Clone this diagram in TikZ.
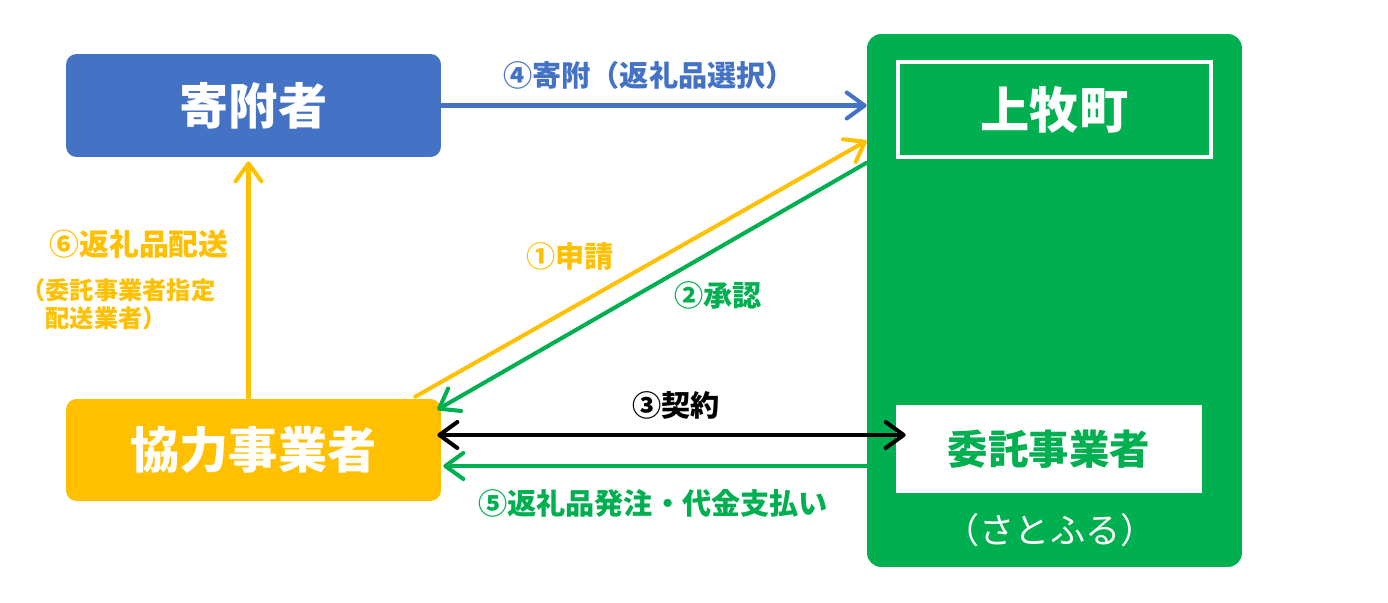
\documentclass[tikz,border=0pt]{standalone}
\usepackage{fontspec}
\setmainfont{Noto Sans CJK JP}
\usepackage{xcolor}
\usetikzlibrary{arrows.meta,positioning,calc}

\definecolor{donorblue}{HTML}{4472C4}
\definecolor{partneryellow}{HTML}{FFC000}
\definecolor{towngreen}{HTML}{00B050}

\begin{document}
\begin{tikzpicture}[
  x=0.02cm,
  y=-0.02cm,
  font=\bfseries,
  >={Straight Barb[length=3.6mm, width=5.2mm, round]},
  link/.style={->, line width=2.3pt, line cap=round},
  duplex/.style={<->, line width=2.3pt, line cap=round},
  actor/.style={rounded corners=6pt, minimum width=7.5cm, minimum height=2.06cm,
    text=white, font=\fontsize{28}{30}\selectfont\bfseries, inner sep=0pt},
  panel/.style={fill=towngreen, rounded corners=8pt, minimum width=7.5cm,
    minimum height=10.66cm, inner sep=0pt},
  tag/.style={font=\fontsize{16.6}{18}\selectfont\bfseries, inner sep=1pt}
]
\useasboundingbox (0,0) rectangle (1388,602);

% Parties on the left and the town panel on the right.
\node[actor, fill=donorblue] (donor) at (253.5,105.5) {寄附者};
\node[actor, fill=partneryellow, minimum height=2.04cm] (partner) at (253.5,450) {協力事業者};
\node[panel] (town) at (1054.5,300.5) {};
\node[draw=white, line width=2.3pt, minimum width=6.26cm, minimum height=1.9cm,
  inner sep=0pt, text=white, font=\fontsize{28}{30}\selectfont\bfseries]
  (townhead) at (1054.5,109.5) {上牧町};
\node[fill=white, minimum width=6.12cm, minimum height=1.76cm, inner sep=0pt,
  text=towngreen, font=\fontsize{23}{25}\selectfont\bfseries]
  (trustee) at (1049,449) {委託事業者};
\node[text=white, inner sep=1pt, font=\fontsize{20}{22}\selectfont]
  (satofuru) at (1050,530) {（さとふる）};

% Flows between the parties.
\draw[link, draw=donorblue] (donor.east) -- (donor.east -| town.west);
\node[tag, text=donorblue] (donatelbl) at (649,75) {④寄附（返礼品選択）};

\draw[link, draw=partneryellow] ($(partner.north east)+(-26,-2)$)
  -- ($(town.north west)+(0,107)$);
\node[tag, text=partneryellow] (applylbl) at (570,256) {①申請};

\draw[link, draw=towngreen] ($(town.north west)+(0,129)$)
  -- ($(partner.north east)+(-4,11)$);
\node[tag, text=towngreen] (approvelbl) at (718,295) {②承認};

\draw[duplex, draw=black] ($(partner.east)+(-4,-15)$) -- ($(trustee.west)+(10,-14)$);
\node[tag, text=black] (contractlbl) at (676,405) {③契約};

\coordinate (payend) at ($(partner.east)+(2,16)$);
\draw[link, draw=towngreen] (payend -| town.west) -- (payend);
\node[tag, text=towngreen] (paylbl) at (653,503) {⑤返礼品発注・代金支払い};

\draw[link, draw=partneryellow] ($(partner.north)+(-5,-1)$) -- ($(donor.south)+(-5,4)$);
\node[tag, text=partneryellow, font=\fontsize{17}{19}\selectfont\bfseries]
  (shiplbl) at (139,244) {⑥返礼品配送};
\node[text=partneryellow, font=\fontsize{13.8}{16}\selectfont\bfseries, align=left,
  anchor=west, inner sep=0pt] (shipnote) at (21,304)
  {（委託事業者指定\\\hspace*{1em}配送業者）};

\end{tikzpicture}
\end{document}
